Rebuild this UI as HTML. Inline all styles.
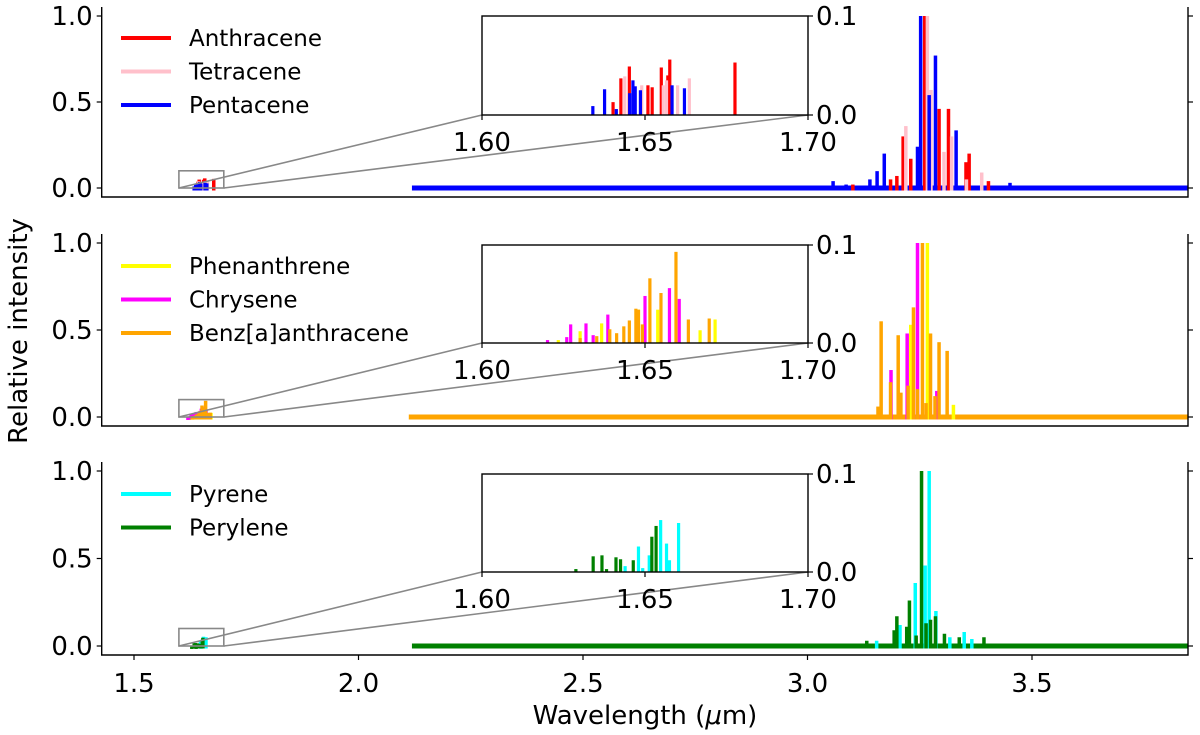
<!DOCTYPE html>
<html><head><meta charset="utf-8"><style>
html,body{margin:0;padding:0;background:#fff;}
svg{display:block;font-family:"DejaVu Sans","Liberation Sans",sans-serif;}
</style></head><body>
<svg id="chart" width="1200" height="735" viewBox="0 0 1200 735"></svg>
<script>
// ---- data: wavelength (µm) and relative intensity per molecule ----
const anthraceneWl = [1.6402,1.6426,1.6452,1.6509,1.6522,1.6550,1.6570,1.6576,1.6776,3.101,3.185,3.199,3.213,3.230,3.261,3.293,3.314,3.353,3.360,3.403];
const anthraceneVal = [0.013,0.037,0.049,0.030,0.028,0.048,0.040,0.056,0.053,0.02,0.05,0.07,0.30,0.17,1.0,0.46,0.46,0.15,0.20,0.04];
const tetraceneWl = [1.6438,1.6490,1.6556,1.6566,1.6600,1.6636,3.219,3.267,3.275,3.304,3.321,3.354,3.388];
const tetraceneVal = [0.039,0.030,0.030,0.035,0.030,0.037,0.36,1.0,0.57,0.21,0.30,0.05,0.09];
const pentaceneWl = [1.6340,1.6376,1.6412,1.6453,1.6463,1.6470,1.6486,1.6583,1.6621,3.057,3.086,3.139,3.155,3.171,3.245,3.252,3.271,3.285,3.331,3.451];
const pentaceneVal = [0.009,0.026,0.006,0.022,0.035,0.029,0.025,0.030,0.027,0.04,0.02,0.05,0.098,0.20,0.24,1.0,0.54,0.77,0.335,0.03];

const phenanthreneWl = [1.6234,1.6301,1.6367,1.6480,1.6539,1.6669,1.6715,3.230,3.267,3.325];
const phenanthreneVal = [0.003,0.012,0.020,0.034,0.034,0.013,0.024,0.53,1.0,0.07];
const chryseneWl = [1.6201,1.6260,1.6272,1.6319,1.6341,1.6386,1.6500,1.6575,1.6605,3.186,3.222,3.245,3.288];
const chryseneVal = [0.003,0.006,0.019,0.020,0.008,0.029,0.048,0.056,0.045,0.27,0.48,1.0,0.15];
const benzanthraceneWl = [1.6301,1.6352,1.6392,1.6413,1.6435,1.6452,1.6472,1.6480,1.6492,1.6515,1.6549,1.6595,1.6633,1.6697,3.157,3.164,3.185,3.202,3.208,3.224,3.236,3.245,3.256,3.264,3.274,3.284,3.293,3.311];
const benzanthraceneVal = [0.005,0.007,0.014,0.010,0.017,0.023,0.035,0.034,0.019,0.066,0.051,0.093,0.024,0.025,0.06,0.55,0.20,0.47,0.14,0.18,0.63,0.16,1.0,0.08,0.48,0.12,0.43,0.38];

const pyreneWl = [1.6439,1.6480,1.6493,1.6513,1.6548,1.6566,1.6575,1.6603,3.154,3.206,3.240,3.262,3.271,3.286,3.317,3.349,3.366];
const pyreneVal = [0.006,0.026,0.004,0.017,0.053,0.029,0.012,0.050,0.03,0.12,0.36,0.46,1.0,0.20,0.05,0.08,0.04];
const peryleneWl = [1.6288,1.6341,1.6368,1.6382,1.6411,1.6425,1.6464,1.6521,1.6534,3.132,3.193,3.199,3.221,3.227,3.242,3.254,3.264,3.274,3.285,3.305,3.338,3.393];
const peryleneVal = [0.003,0.016,0.017,0.003,0.015,0.013,0.012,0.036,0.047,0.03,0.09,0.17,0.11,0.26,0.06,1.0,0.13,0.15,0.17,0.07,0.05,0.05];

// baseline continuum extents (µm) per panel
const baselineStart = [2.119, 2.112, 2.119];
const baselineEnd = [3.847, 3.847, 3.847];

const xTicks = [1.5, 2.0, 2.5, 3.0, 3.5];
const xTickLabels = ["1.5", "2.0", "2.5", "3.0", "3.5"];
const yTicks = [0, 0.5, 1.0];
const yTickLabels = ["0.0", "0.5", "1.0"];
const insetXTicks = [1.60, 1.65, 1.70];
const insetXTickLabels = ["1.60", "1.65", "1.70"];
const insetYTicks = [0, 0.1];
const insetYTickLabels = ["0.0", "0.1"];

// ---- layout ----
const NS = "http://www.w3.org/2000/svg";
const svg = document.getElementById("chart");
const L = 101.7, R = 1188;
const xMin = 1.5 - (134 - L) / 449, xMax = 1.5 + (R - 134) / 449;
function xs(v) { return L + (v - xMin) / (xMax - xMin) * (R - L); }
const insL = 482, insR = 808;
function ixs(v) { return insL + (v - 1.60) / 0.10 * (insR - insL); }

const panels = [
  {name: "acenes", y0: 188, y1: 16, top: 7, bottom: 197, iy0: 115, iy1: 16, legY: 38,
   series: [
     {name: "Anthracene", color: "#ff0000", wl: anthraceneWl, val: anthraceneVal},
     {name: "Tetracene", color: "#ffc0cb", wl: tetraceneWl, val: tetraceneVal},
     {name: "Pentacene", color: "#0000ff", wl: pentaceneWl, val: pentaceneVal}]},
  {name: "phenacenes", y0: 417, y1: 243, top: 234, bottom: 426, iy0: 343, iy1: 245, legY: 266,
   series: [
     {name: "Phenanthrene", color: "#ffff00", wl: phenanthreneWl, val: phenanthreneVal},
     {name: "Chrysene", color: "#ff00ff", wl: chryseneWl, val: chryseneVal},
     {name: "Benz[a]anthracene", color: "#ffa500", wl: benzanthraceneWl, val: benzanthraceneVal}]},
  {name: "pericondensed", y0: 646, y1: 471, top: 462, bottom: 655, iy0: 572, iy1: 474, legY: 494,
   series: [
     {name: "Pyrene", color: "#00ffff", wl: pyreneWl, val: pyreneVal},
     {name: "Perylene", color: "#008000", wl: peryleneWl, val: peryleneVal}]}
];

function mk(tag, attrs, parent) {
  const e = document.createElementNS(NS, tag);
  for (const k in attrs) e.setAttribute(k, attrs[k]);
  (parent || svg).appendChild(e);
  return e;
}

panels.forEach((p, pi) => {
  const g = mk("g", {});
  
  
  const ys = v => p.y0 - v * (p.y0 - p.y1);
  const iys = v => p.iy0 - v / 0.1 * (p.iy0 - p.iy1);
  const last = p.series[p.series.length - 1];

  // baseline continuum
  const base = mk("rect", {x: xs(baselineStart[pi]), y: p.y0 - 2.5, width: xs(baselineEnd[pi]) - xs(baselineStart[pi]), height: 5, fill: last.color}, g);
  
  

  // bars in main axes
  p.series.forEach(s => {
    s.wl.forEach((w, i) => {
      const h = Math.max(ys(0) - ys(s.val[i]), 1);
      const b = mk("rect", {x: xs(w) - 1.75, y: ys(s.val[i]), width: 3.5, height: h + 2.5, fill: s.color}, g);
      
      
    });
  });

  // spines
  const sp = mk("path", {d: `M${L},${p.top} V${p.bottom} H${R} V${p.top}`, fill: "none", stroke: "#000", "stroke-width": 1.4}, g);
  
  

  // y ticks
  yTicks.forEach((t, i) => {
    mk("line", {x1: L - 5, x2: L, y1: ys(t), y2: ys(t), stroke: "#000", "stroke-width": 1.2}, g);
    mk("line", {x1: R, x2: R + 5, y1: ys(t), y2: ys(t), stroke: "#000", "stroke-width": 1.2}, g);
    const tl = mk("text", {x: L - 9, y: ys(t) + 9, "text-anchor": "end", "font-size": 26}, g);
    tl.textContent = yTickLabels[i];
    
    
  });

  // x ticks for bottom panel
  if (pi === 2) {
    xTicks.forEach((t, i) => {
      mk("line", {x1: xs(t), x2: xs(t), y1: p.bottom, y2: p.bottom + 5, stroke: "#000", "stroke-width": 1.2}, g);
      const tl = mk("text", {x: xs(t), y: p.bottom + 37, "text-anchor": "middle", "font-size": 26}, g);
      tl.textContent = xTickLabels[i];
      
      
    });
  }

  // legend
  p.series.forEach((s, i) => {
    const ly = p.legY + i * 33.5;
    const ll = mk("line", {x1: 121, x2: 171, y1: ly, y2: ly, stroke: s.color, "stroke-width": 4}, g);
    
    
    const lt = mk("text", {x: 189, y: ly + 8, "font-size": 23}, g);
    lt.textContent = s.name;
    
    
  });

  // indicator rectangle and connectors
  const rx1 = xs(1.60), rx2 = xs(1.70), ry1 = ys(0.1), ry2 = ys(0);
  const ir = mk("rect", {x: rx1, y: ry1, width: rx2 - rx1, height: ry2 - ry1, fill: "none", stroke: "#888", "stroke-width": 1.6}, g);
  
  
  mk("line", {x1: rx1, y1: ry2, x2: insL, y2: p.iy0, stroke: "#888", "stroke-width": 1.6}, g);
  mk("line", {x1: rx2, y1: ry2, x2: insR, y2: p.iy0, stroke: "#888", "stroke-width": 1.6}, g);

  // inset
  const ig = mk("g", {}, g);
  
  
  mk("rect", {x: insL, y: p.iy1, width: insR - insL, height: p.iy0 - p.iy1, fill: "#fff"}, ig);
  p.series.forEach(s => {
    s.wl.forEach((w, i) => {
      if (w < 1.6 || w > 1.7) return;
      const b = mk("rect", {x: ixs(w) - 1.6, y: iys(s.val[i]), width: 3.2, height: iys(0) - iys(s.val[i]), fill: s.color}, ig);
      
      
    });
  });
  mk("rect", {x: insL, y: p.iy1, width: insR - insL, height: p.iy0 - p.iy1, fill: "none", stroke: "#000", "stroke-width": 1.4}, ig);
  insetXTicks.forEach((t, i) => {
    mk("line", {x1: ixs(t), x2: ixs(t), y1: p.iy0, y2: p.iy0 + 5, stroke: "#000", "stroke-width": 1.2}, ig);
    const tl = mk("text", {x: ixs(t), y: p.iy0 + 36, "text-anchor": "middle", "font-size": 26}, ig);
    tl.textContent = insetXTickLabels[i];
    
    
  });
  insetYTicks.forEach((t, i) => {
    mk("line", {x1: insR, x2: insR + 5, y1: iys(t), y2: iys(t), stroke: "#000", "stroke-width": 1.2}, ig);
    const tl = mk("text", {x: insR + 8, y: iys(t) + 9, "font-size": 26}, ig);
    tl.textContent = insetYTickLabels[i];
    
    
  });
});

// axis titles
const yt = mk("text", {x: 0, y: 0, "text-anchor": "middle", "font-size": 26, transform: "translate(27,331) rotate(-90)"});
yt.textContent = "Relative intensity";


const xt = mk("text", {x: 645, y: 724, "text-anchor": "middle", "font-size": 26});
xt.innerHTML = 'Wavelength (<tspan font-style="italic">μ</tspan>m)';


</script>
</body></html>
